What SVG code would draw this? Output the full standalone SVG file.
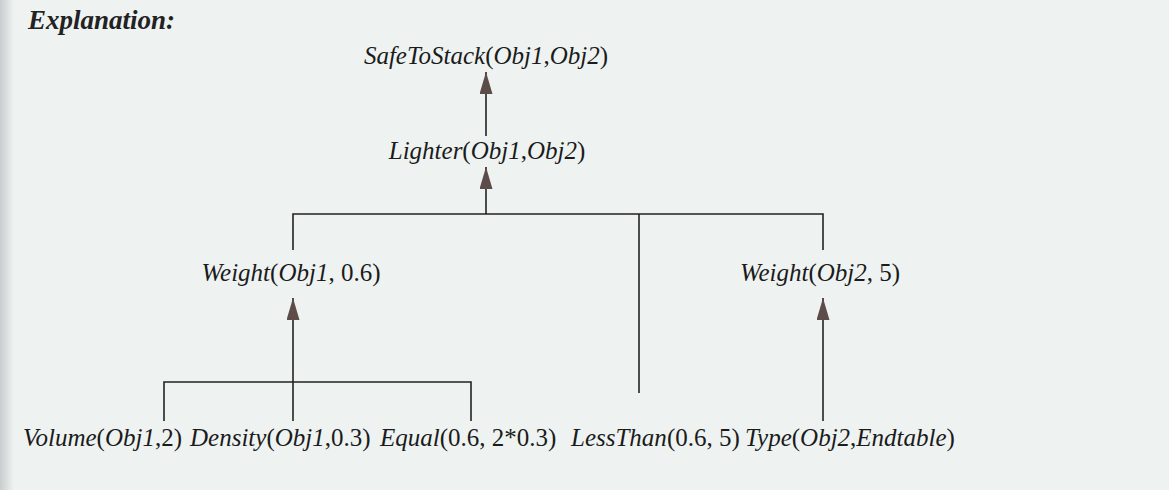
<svg xmlns="http://www.w3.org/2000/svg" width="1169" height="490" viewBox="0 0 1169 490">
  <defs>
    <linearGradient id="edge" x1="0" y1="0" x2="1" y2="0">
      <stop offset="0" stop-color="#c9cdcd"/>
      <stop offset="1" stop-color="#eef3f2"/>
    </linearGradient>
    <marker id="arr" viewBox="0 0 22 13" refX="22" refY="6.5" markerWidth="22" markerHeight="13" markerUnits="userSpaceOnUse" orient="auto">
      <path d="M0,0 L22,6.5 L0,13 Z" fill="#5d4c49"/>
    </marker>
    <style>
      text { font-family: "Liberation Serif", "Times New Roman", serif; font-size: 25px; fill: #1b1b1b; }
      .i { font-style: italic; }
      .title { font-weight: bold; font-style: italic; font-size: 27px; fill: #222; }
      .ln { stroke: #222; stroke-width: 1.6; fill: none; }
      .ar { stroke: #222; stroke-width: 1.6; fill: none; marker-end: url(#arr); }
    </style>
  </defs>
  <rect width="1169" height="490" fill="#eef3f2"/>
  <rect width="14" height="490" fill="url(#edge)"/>

  <text class="title" x="28" y="29">Explanation:</text>

  <g id="connectors">
    <line class="ar" x1="486" y1="136" x2="486" y2="72"/>
    <line class="ar" x1="486" y1="214" x2="486" y2="167"/>
    <polyline class="ln" points="293,250 293,214 823,214 823,250"/>
    <line class="ln" x1="639" y1="214" x2="639" y2="393"/>
    <line class="ar" x1="293" y1="421" x2="293" y2="298"/>
    <polyline class="ln" points="164,421 164,382 471,382 471,421"/>
    <line class="ar" x1="823" y1="421" x2="823" y2="298"/>
  </g>

  <g id="safetostack">
    <text x="486" y="64" text-anchor="middle"><tspan class="i">SafeToStack</tspan>(<tspan class="i">Obj1</tspan>,<tspan class="i">Obj2</tspan>)</text>
  </g>
  <g id="lighter">
    <text x="487" y="159" text-anchor="middle"><tspan class="i">Lighter</tspan>(<tspan class="i">Obj1</tspan>,<tspan class="i">Obj2</tspan>)</text>
  </g>
  <g id="weight1">
    <text x="291" y="281" text-anchor="middle"><tspan class="i">Weight</tspan>(<tspan class="i">Obj1</tspan>, 0.6)</text>
  </g>
  <g id="weight2">
    <text x="820" y="281" text-anchor="middle"><tspan class="i">Weight</tspan>(<tspan class="i">Obj2</tspan>, 5)</text>
  </g>
  <g id="volume">
    <text x="23" y="446"><tspan class="i">Volume</tspan>(<tspan class="i">Obj1</tspan>,2)</text>
  </g>
  <g id="density">
    <text x="190" y="446"><tspan class="i">Density</tspan>(<tspan class="i">Obj1</tspan>,0.3)</text>
  </g>
  <g id="equal">
    <text x="380" y="446"><tspan class="i">Equal</tspan>(0.6, 2*0.3)</text>
  </g>
  <g id="lessthan">
    <text x="571" y="446"><tspan class="i">LessThan</tspan>(0.6, 5)</text>
  </g>
  <g id="type">
    <text x="745" y="446"><tspan class="i">Type</tspan>(<tspan class="i">Obj2</tspan>,<tspan class="i">Endtable</tspan>)</text>
  </g>
</svg>
